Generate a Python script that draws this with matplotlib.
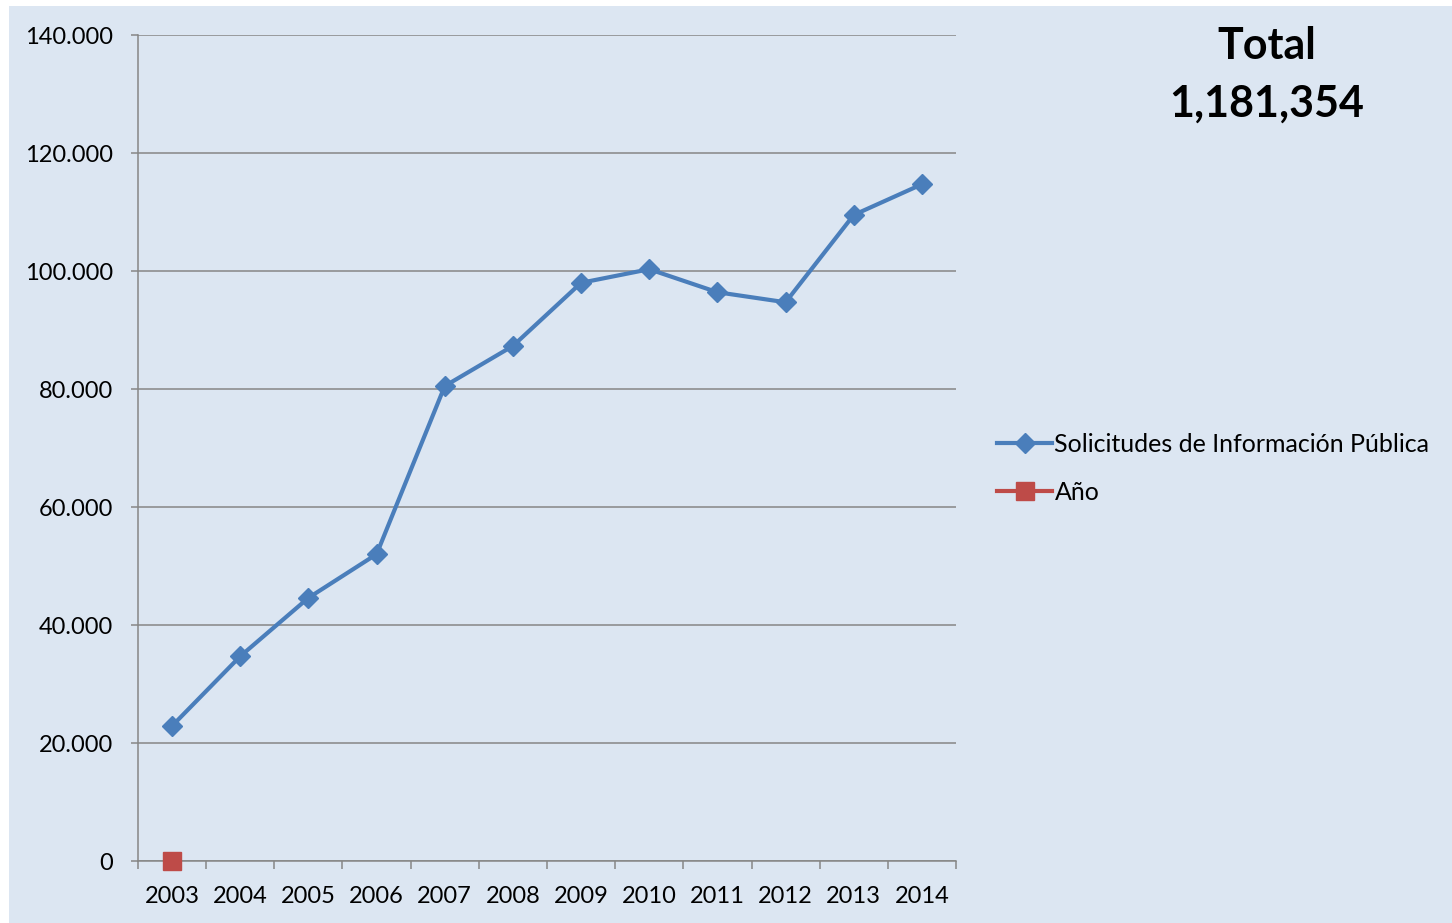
import matplotlib
matplotlib.use('Agg')
import matplotlib.pyplot as plt
import matplotlib.ticker as mticker
from matplotlib.patches import Rectangle
import numpy as np

plt.rcParams['font.family'] = ['Lato', 'DejaVu Sans']

years = ['2003', '2004', '2005', '2006', '2007', '2008',
         '2009', '2010', '2011', '2012', '2013', '2014']
solicitudes = [22900, 34700, 44600, 52000, 80500, 87300,
               98000, 100300, 96400, 94700, 109500, 114700]
anio_x = [0]
anio = [0]
total_label = 'Total\n1,181,354'

bg = '#DCE6F2'
grid_c = '#868686'

fig = plt.figure(figsize=(14.52, 9.23), dpi=100, facecolor='white')
fig.patches.append(Rectangle((9 / 1452, 0), 1, 1 - 6 / 923,
                             transform=fig.transFigure, facecolor=bg,
                             edgecolor='none', zorder=-10))

ax = fig.add_axes([138 / 1452, 62 / 923, 818 / 1452, 826 / 923])
ax.set_facecolor('none')

x = np.arange(len(years))
ax.plot(x, solicitudes, color='#4A7EBB', lw=3, marker='D', ms=10,
        label='Solicitudes de Información Pública', zorder=3)
ax.plot(anio_x, anio, color='#BE4B48', lw=3, marker='s', ms=13,
        label='Año', clip_on=False, zorder=4)

ax.set_xlim(-0.5, len(years) - 0.5)
ax.set_ylim(0, 140000)

# gridlines / axes
ax.set_yticks(np.arange(0, 140001, 20000))
ax.yaxis.set_major_formatter(mticker.FuncFormatter(
    lambda v, p: '0' if v == 0 else '{:,.0f}'.format(v).replace(',', '.')))
ax.grid(axis='y', color=grid_c, lw=1.1)
ax.set_axisbelow(True)

ax.set_xticks(x)
ax.set_xticklabels(years)
ax.set_xticks(np.arange(-0.5, len(years)), minor=True)
ax.tick_params(axis='x', which='major', length=0, pad=18, labelsize=17)
ax.tick_params(axis='x', which='minor', length=6, width=1.1, color=grid_c)
ax.tick_params(axis='y', length=5, width=1.1, color=grid_c, pad=13,
               labelsize=17)

for s in ['top', 'right']:
    ax.spines[s].set_visible(False)
for s in ['left', 'bottom']:
    ax.spines[s].set_color(grid_c)
    ax.spines[s].set_linewidth(1.1)

ax.legend(loc='center left', bbox_to_anchor=(997 / 1452, 1 - 468 / 923),
          bbox_transform=fig.transFigure, frameon=False, fontsize=18,
          handlelength=2.2, handletextpad=0.1, labelspacing=1.0,
          borderpad=0, borderaxespad=0)

fig.text(1267 / 1452, 1 - 75 / 923, total_label, ha='center', va='center',
         fontsize=31, fontweight='bold', linespacing=1.55)

fig.savefig('out.png', dpi=100, facecolor='white')
